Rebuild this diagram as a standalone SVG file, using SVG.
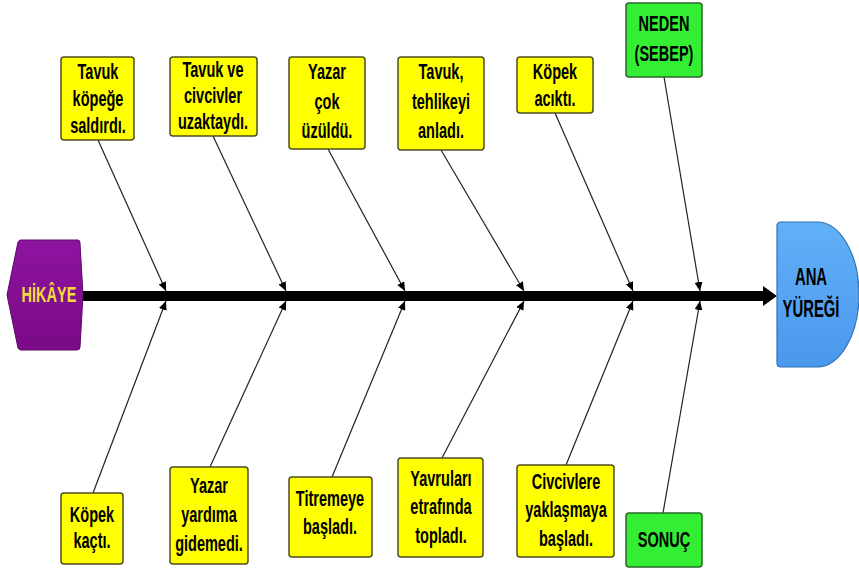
<svg xmlns="http://www.w3.org/2000/svg" width="859" height="569" viewBox="0 0 859 569">
<style>
.box{fill:#FFFF00;stroke:#4d4d22;stroke-width:1.5}
.gbox{fill:#33EE33;stroke:#2a6a2a;stroke-width:1.5}
.t{font-family:"Liberation Sans",Arial,sans-serif;font-weight:bold;font-size:22px;fill:#000;text-anchor:middle}
.bone{stroke:#222;stroke-width:1.2;fill:none;marker-end:url(#ah)}
</style>
<defs>
<marker id="ah" markerUnits="userSpaceOnUse" markerWidth="9" markerHeight="8" refX="9" refY="4" orient="auto">
<path d="M0,0 L9,4 L0,8 Z" fill="#000"/>
</marker>
<linearGradient id="pg" x1="0" y1="0" x2="0" y2="1">
<stop offset="0" stop-color="#8e14a0"/>
<stop offset="1" stop-color="#7a0a86"/>
</linearGradient>
<linearGradient id="bg" x1="0" y1="0" x2="0" y2="1">
<stop offset="0" stop-color="#62b0f8"/>
<stop offset="1" stop-color="#4a98ec"/>
</linearGradient>
</defs>
<rect width="859" height="569" fill="#fff"/>

<g id="connectors">
<line x1="82" y1="296" x2="766" y2="296" stroke="#000" stroke-width="10"/>
<polygon points="763,286 777,296 763,306" fill="#000"/>
<line class="bone" x1="98" y1="140" x2="166" y2="291"/>
<line class="bone" x1="213" y1="136" x2="286" y2="291"/>
<line class="bone" x1="328" y1="149" x2="405" y2="291"/>
<line class="bone" x1="441" y1="150" x2="524" y2="291"/>
<line class="bone" x1="555" y1="113" x2="633" y2="291"/>
<line class="bone" x1="664" y1="77" x2="700" y2="291"/>
<line class="bone" x1="93" y1="493" x2="166" y2="301"/>
<line class="bone" x1="210" y1="467" x2="286" y2="301"/>
<line class="bone" x1="332" y1="477" x2="405" y2="301"/>
<line class="bone" x1="442" y1="458" x2="524" y2="301"/>
<line class="bone" x1="566" y1="465" x2="633" y2="301"/>
<line class="bone" x1="663" y1="513" x2="700" y2="301"/>
</g>

<g id="hikaye">
<path d="M21,240 H78 Q80,240 80,243 L83,295 L80,347 Q80,350 77,350 H21 Q19,350 18,348 L7,295 L18,242 Q19,240 21,240 Z" fill="url(#pg)" stroke="#5a0866" stroke-width="1"/>
<text class="t" style="fill:#F2DC3A" transform="translate(49 0) scale(0.66 1)"><tspan x="0" y="302">HİKÂYE</tspan></text>
</g>

<g id="ana-yuregi">
<path d="M781,222 H817 A42,72.5 0 0 1 817,367 H781 Q777,367 777,363 V226 Q777,222 781,222 Z" fill="url(#bg)" stroke="#2f6fb8" stroke-width="1.2"/>
<text class="t" transform="translate(811 0) scale(0.62 1)" style="font-size:24px"><tspan x="0" y="285">ANA</tspan><tspan x="0" y="317">YÜREĞİ</tspan></text>
</g>

<g id="t1">
<rect class="box" x="61" y="57" width="73" height="83" rx="3"/>
<text class="t" transform="translate(98 0) scale(0.66 1)"><tspan x="0" y="79">Tavuk</tspan><tspan x="0" y="106">köpeğe</tspan><tspan x="0" y="133">saldırdı.</tspan></text>
</g>
<g id="t2">
<rect class="box" x="170" y="57" width="87" height="79" rx="3"/>
<text class="t" transform="translate(213 0) scale(0.66 1)"><tspan x="0" y="77">Tavuk ve</tspan><tspan x="0" y="103">civcivler</tspan><tspan x="0" y="129">uzaktaydı.</tspan></text>
</g>
<g id="t3">
<rect class="box" x="289" y="57" width="76" height="92" rx="3"/>
<text class="t" transform="translate(327 0) scale(0.66 1)"><tspan x="0" y="79">Yazar</tspan><tspan x="0" y="109">çok</tspan><tspan x="0" y="138">üzüldü.</tspan></text>
</g>
<g id="t4">
<rect class="box" x="398" y="57" width="86" height="93" rx="3"/>
<text class="t" transform="translate(441 0) scale(0.66 1)"><tspan x="0" y="79">Tavuk,</tspan><tspan x="0" y="109">tehlikeyi</tspan><tspan x="0" y="138">anladı.</tspan></text>
</g>
<g id="t5">
<rect class="box" x="517" y="57" width="76" height="56" rx="3"/>
<text class="t" transform="translate(555 0) scale(0.66 1)"><tspan x="0" y="79">Köpek</tspan><tspan x="0" y="106">acıktı.</tspan></text>
</g>
<g id="neden">
<rect class="gbox" x="626" y="3" width="76" height="74" rx="3"/>
<text class="t" transform="translate(664 0) scale(0.66 1)"><tspan x="0" y="31">NEDEN</tspan><tspan x="0" y="61">(SEBEP)</tspan></text>
</g>

<g id="b1">
<rect class="box" x="61" y="493" width="62" height="71" rx="3"/>
<text class="t" transform="translate(92 0) scale(0.66 1)"><tspan x="0" y="522">Köpek</tspan><tspan x="0" y="548">kaçtı.</tspan></text>
</g>
<g id="b2">
<rect class="box" x="170" y="467" width="78" height="97" rx="3"/>
<text class="t" transform="translate(209 0) scale(0.66 1)"><tspan x="0" y="493">Yazar</tspan><tspan x="0" y="522">yardıma</tspan><tspan x="0" y="551">gidemedi.</tspan></text>
</g>
<g id="b3">
<rect class="box" x="289" y="477" width="83" height="80" rx="3"/>
<text class="t" transform="translate(330 0) scale(0.66 1)"><tspan x="0" y="506">Titremeye</tspan><tspan x="0" y="534">başladı.</tspan></text>
</g>
<g id="b4">
<rect class="box" x="398" y="458" width="85" height="99" rx="3"/>
<text class="t" transform="translate(441 0) scale(0.66 1)"><tspan x="0" y="486">Yavruları</tspan><tspan x="0" y="514">etrafında</tspan><tspan x="0" y="543">topladı.</tspan></text>
</g>
<g id="b5">
<rect class="box" x="517" y="465" width="97" height="92" rx="3"/>
<text class="t" transform="translate(566 0) scale(0.66 1)"><tspan x="0" y="489">Civcivlere</tspan><tspan x="0" y="517">yaklaşmaya</tspan><tspan x="0" y="546">başladı.</tspan></text>
</g>
<g id="sonuc">
<rect class="gbox" x="626" y="513" width="76" height="54" rx="3"/>
<text class="t" transform="translate(664 0) scale(0.66 1)"><tspan x="0" y="547">SONUÇ</tspan></text>
</g>
</svg>
